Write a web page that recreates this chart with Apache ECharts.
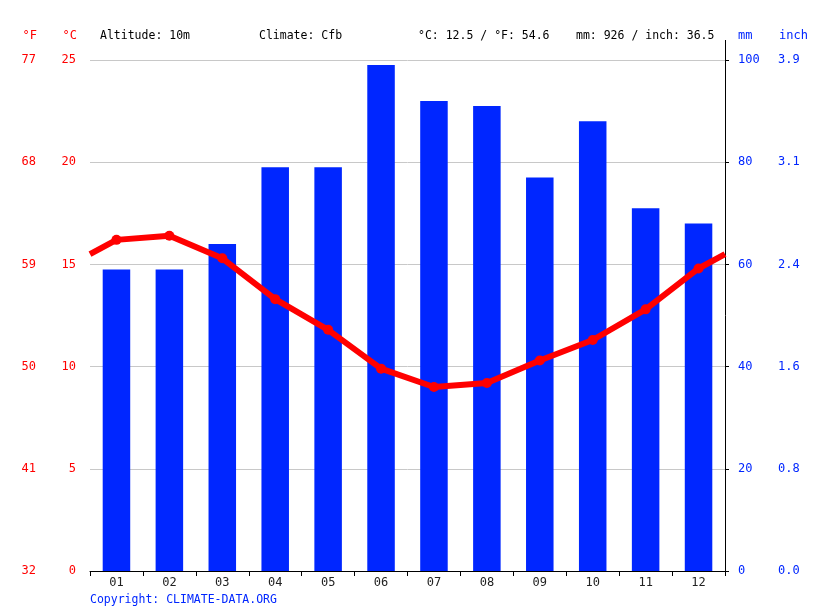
<!DOCTYPE html>
<html><head><meta charset="utf-8">
<script src="https://cdn.jsdelivr.net/npm/echarts@6/dist/echarts.min.js"></script>
<style>html,body{margin:0;padding:0;background:#fff}#c{width:815px;height:611px}</style>
</head><body><div id="c"></div>
<script>
const months = ['01','02','03','04','05','06','07','08','09','10','11','12'];
const precipMm = [59, 59, 64, 79, 79, 99, 92, 91, 77, 88, 71, 68];
const tempC = [16.2, 16.4, 15.3, 13.3, 11.8, 9.9, 9.0, 9.2, 10.3, 11.3, 12.8, 14.8];
const fLabels = ['32','41','50','59','68','77'];
const inchLabels = ['0.0','0.8','1.6','2.4','3.1','3.9'];
const headerTexts = ['Altitude: 10m','Climate: Cfb','°C: 12.5 / °F: 54.6','mm: 926 / inch: 36.5'];

const FONT = 'DejaVu Sans Mono';
const RED = '#ff0000';
const BLUE = '#0026ff';

const edge = (tempC[0] + tempC[11]) / 2;
const lineData = [{value:[0, edge], symbol:'none'}]
  .concat(tempC.map((t,i)=>({value:[i+0.5, t]})))
  .concat([{value:[12, edge], symbol:'none'}]);

const chart = echarts.init(document.getElementById('c'), null, {renderer:'canvas'});
const headerX = [100, 259, 418, 576];
chart.setOption({
  animation:false,
  textStyle:{fontFamily:FONT},
  grid:{left:90, right:90, top:60, bottom:40, containLabel:false},
  xAxis:[
    {type:'category', data:months, boundaryGap:true,
     axisLine:{lineStyle:{color:'#000', width:1}},
     axisTick:{show:true, length:5, lineStyle:{color:'#000'}},
     axisLabel:{color:'#222', fontFamily:FONT, fontSize:12, margin:6},
     splitLine:{show:false}},
    {type:'value', min:0, max:12, show:false}
  ],
  yAxis:[
    {type:'value', min:0, max:25, interval:5, position:'left',
     axisLine:{show:false}, axisTick:{show:false},
     axisLabel:{color:RED, fontFamily:FONT, fontSize:12, margin:14},
     splitLine:{show:true, lineStyle:{color:'#c8c8c8', width:1}}},
    {type:'value', min:32, max:77, interval:9, position:'left', offset:40,
     axisLine:{show:false}, axisTick:{show:false},
     axisLabel:{color:RED, fontFamily:FONT, fontSize:12, margin:14,
       formatter:(v,i)=>fLabels[i]},
     splitLine:{show:false}},
    {type:'value', min:0, max:100, interval:20, position:'right',
     axisLine:{show:true, lineStyle:{color:'#000', width:1}},
     axisTick:{show:true, length:4, lineStyle:{color:'#000'}},
     axisLabel:{color:BLUE, fontFamily:FONT, fontSize:12, margin:13},
     splitLine:{show:false}},
    {type:'value', min:0, max:100, interval:20, position:'right', offset:40,
     axisLine:{show:false}, axisTick:{show:false},
     axisLabel:{color:BLUE, fontFamily:FONT, fontSize:12, margin:13,
       formatter:(v,i)=>inchLabels[i]},
     splitLine:{show:false}}
  ],
  series:[
    {type:'bar', data:precipMm, xAxisIndex:0, yAxisIndex:2, barWidth:'52%',
     itemStyle:{color:BLUE}, z:2},
    {type:'line', data:lineData, xAxisIndex:1, yAxisIndex:0,
     symbol:'circle', symbolSize:10, lineStyle:{color:RED, width:6},
     itemStyle:{color:RED}, z:5}
  ],
  graphic:[
    {type:'text', x:37, y:36, style:{text:'°F', fill:RED, font:'12px '+FONT, textAlign:'right', textVerticalAlign:'middle'}},
    {type:'text', x:77, y:36, style:{text:'°C', fill:RED, font:'12px '+FONT, textAlign:'right', textVerticalAlign:'middle'}},
    {type:'text', x:738, y:36, style:{text:'mm', fill:BLUE, font:'12px '+FONT, textAlign:'left', textVerticalAlign:'middle'}},
    {type:'text', x:779, y:36, style:{text:'inch', fill:BLUE, font:'12px '+FONT, textAlign:'left', textVerticalAlign:'middle'}},
    ...headerTexts.map((t,i)=>({type:'text', x:headerX[i], y:36,
      style:{text:t, fill:'#000', font:'11.5px '+FONT, textAlign:'left', textVerticalAlign:'middle'}})),
    {type:'line', shape:{x1:725.5, y1:40, x2:725.5, y2:60}, style:{stroke:'#000', lineWidth:1}},
    {type:'text', x:90, y:600, style:{text:'Copyright: CLIMATE-DATA.ORG', fill:BLUE, font:'11.5px '+FONT, textAlign:'left', textVerticalAlign:'middle'}}
  ]
});
</script></body></html>
